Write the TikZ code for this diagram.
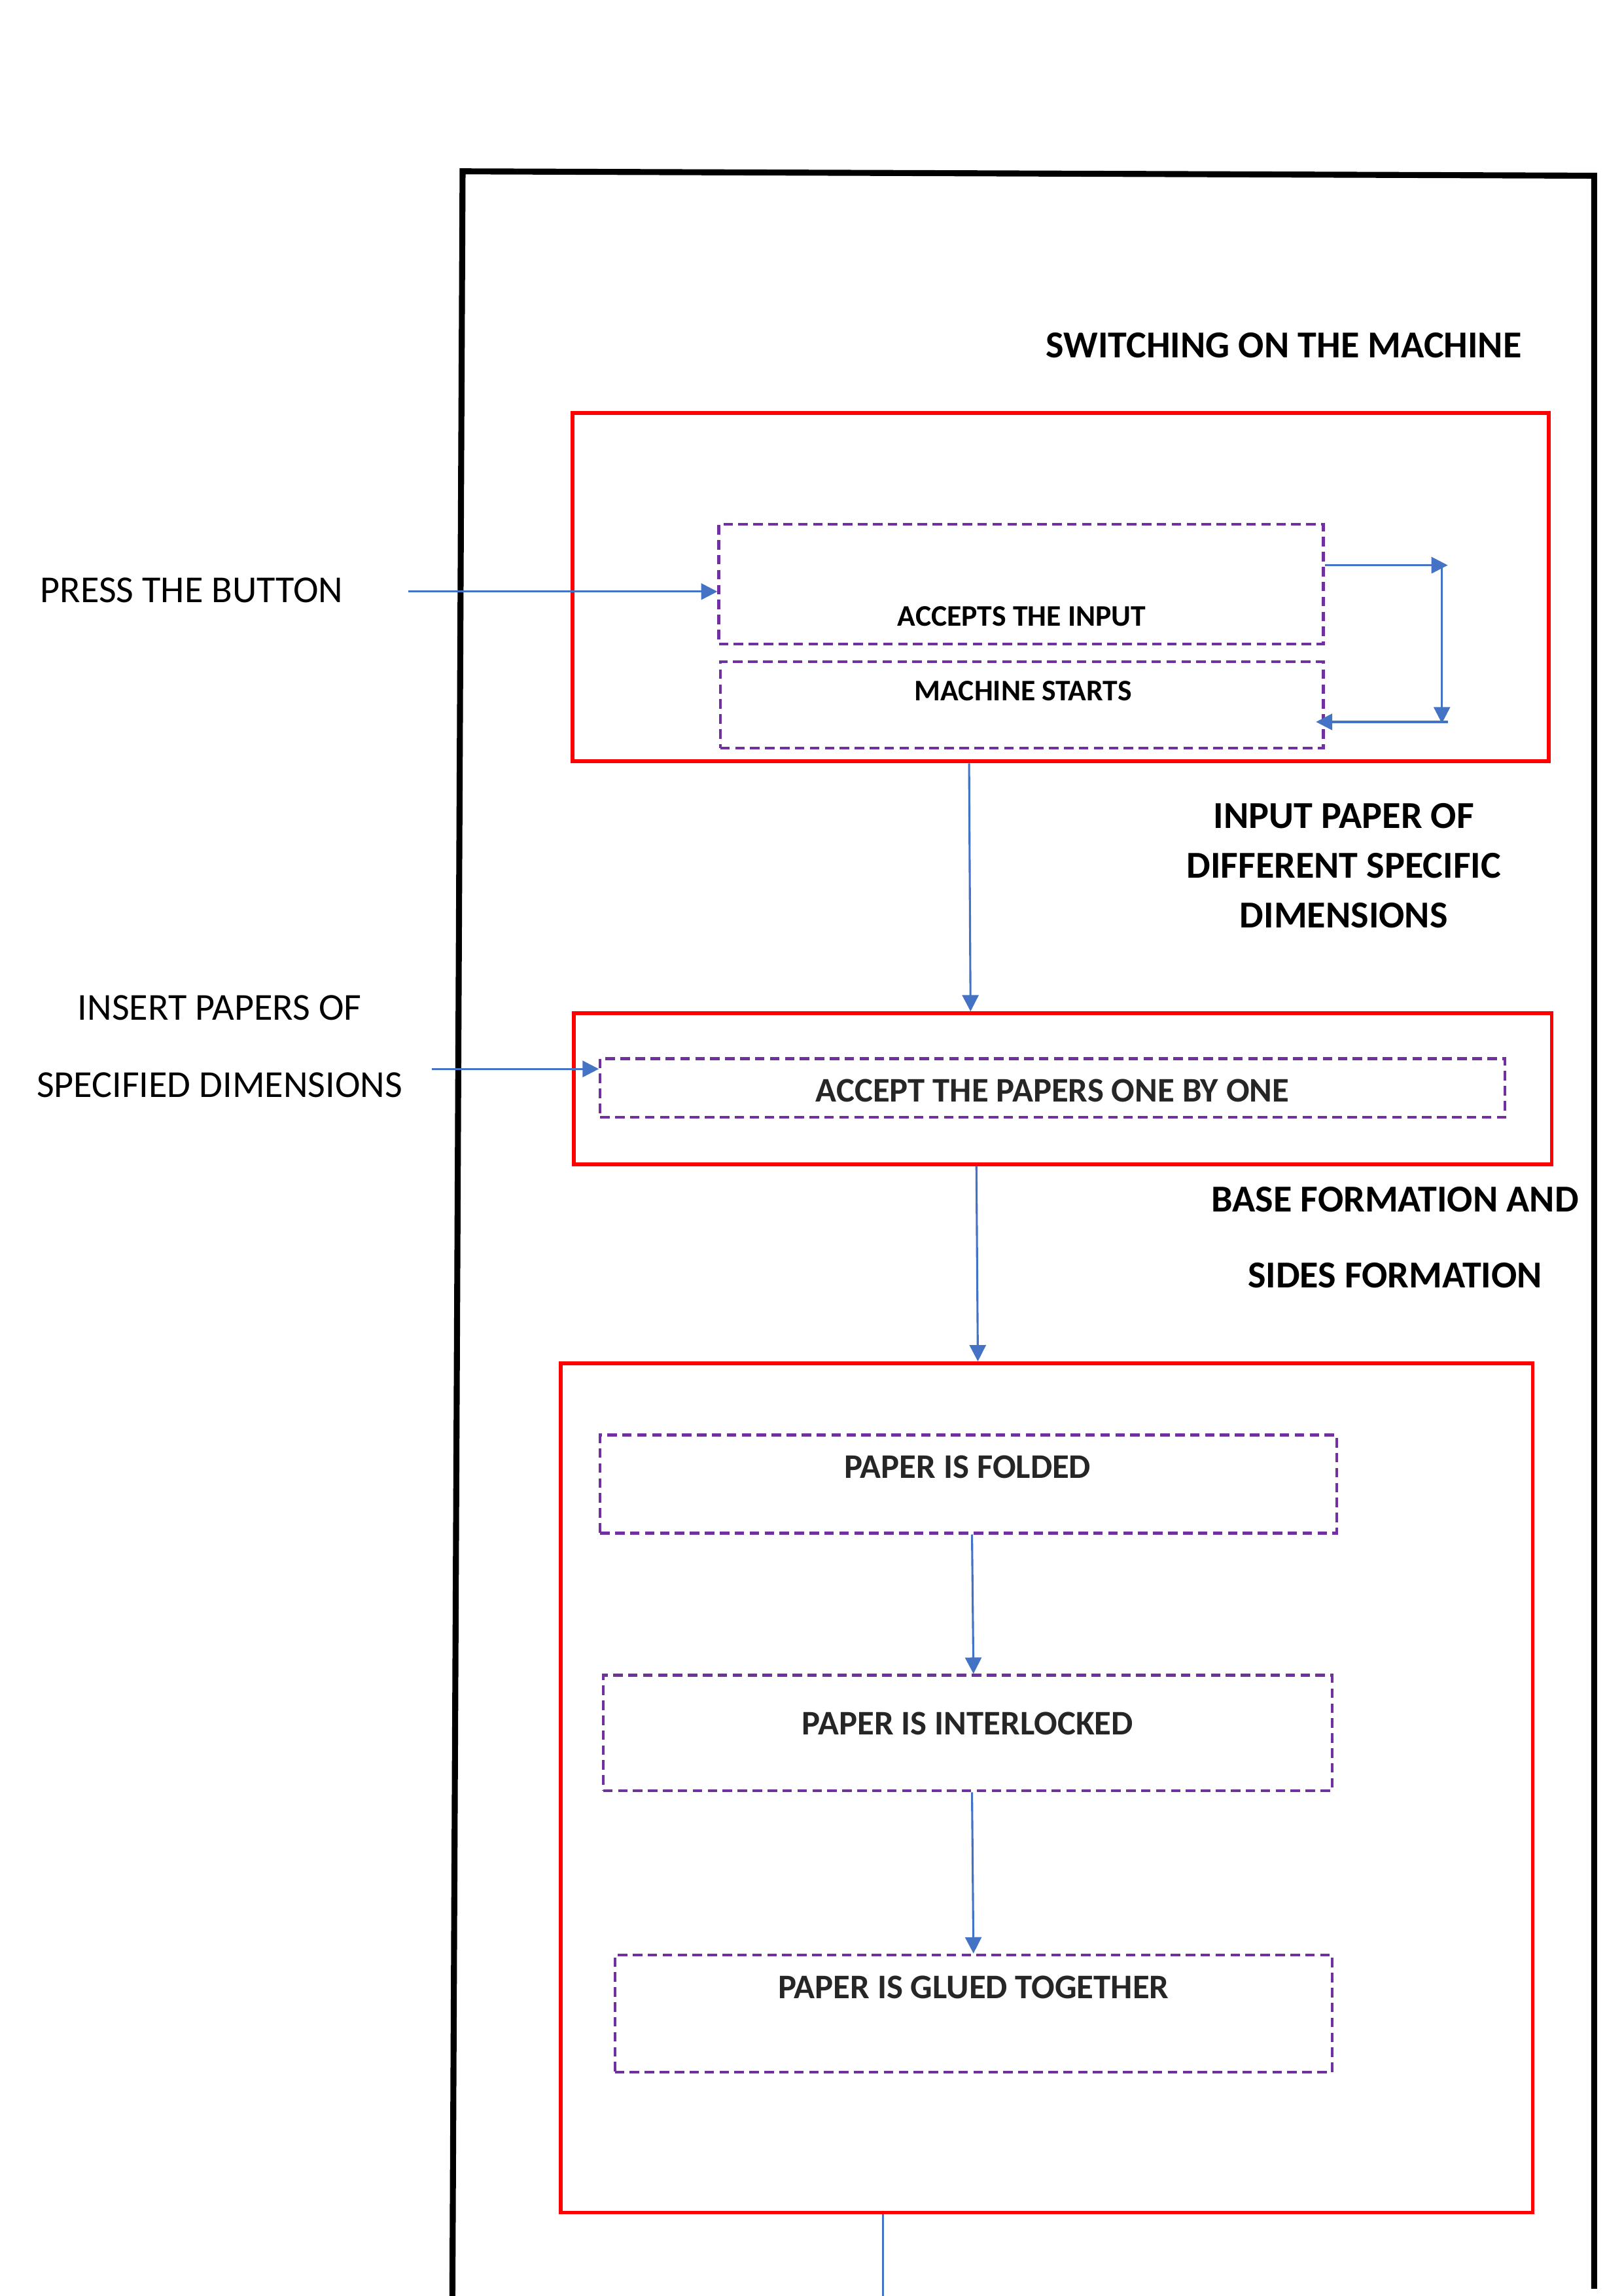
\documentclass[tikz,border=0pt]{standalone}
\usepackage{fontspec}
\setmainfont{Carlito}
\usepackage{tikz}
\usetikzlibrary{arrows.meta}
\newlength\px
\setlength\px{0.01894cm}
\definecolor{flowblue}{HTML}{4472C4}
\definecolor{boxpurple}{HTML}{7030A0}
\definecolor{boxred}{HTML}{FF0000}
\definecolor{labelgrey}{HTML}{262626}

\begin{document}
\begin{tikzpicture}[>={Triangle[length=6pt,width=6pt]}, x=0.01894cm, y=-0.01894cm,
	frame/.style={line width=2.2pt, black},
	redbox/.style={draw=boxred, line width=1.4pt, inner sep=0pt},
	dashbox/.style={draw=boxpurple, line width=1pt, dash pattern=on 3.5pt off 2pt, inner sep=0pt},
	flow/.style={->, draw=flowblue, fill=flowblue, line width=0.75pt},
	heading/.style={font=\fontsize{14}{18.3}\selectfont\bfseries, align=center, inner sep=0pt},
	side/.style={font=\fontsize{14}{28.5}\selectfont, align=center, inner sep=0pt},
	boxtext/.style={font=\fontsize{11}{13}\selectfont\bfseries, inner sep=0pt},
	steptext/.style={font=\fontsize{12.7}{15}\selectfont\bfseries, text=labelgrey, inner sep=0pt}]
	\useasboundingbox (0,0) rectangle (1109,1568);
%	\draw [help lines] (0,0) grid (1109,1568);
	\draw [frame] (309,1575) -- (316,117) -- (1089,120) -- (1089,1563);

	\node [heading] (title) at (877,236) {SWITCHING ON THE MACHINE};
	\node [redbox, minimum width=667\px, minimum height=238\px] (switch) at (724.5,401) {};
	\node [dashbox, minimum width=413\px, minimum height=82\px] (accin) at (697.5,399) {};
	\node [dashbox, minimum width=412\px, minimum height=59\px] (mstart) at (698,481.5) {};
	\node [boxtext] (accintext) at (698,421) {ACCEPTS THE INPUT};
	\node [boxtext] (mstarttext) at (699,472) {MACHINE STARTS};
	\node [side] (press) at (131,403) {PRESS THE BUTTON};
	\coordinate (pressend) at (279,404);
	\draw [flow] (pressend) -- (accin.west |- pressend);
	\coordinate (loopa) at (989,386);
	\coordinate (loopc) at (985,386);
	\coordinate (loopd) at (985,494);
	\coordinate (loopb) at (989,493);
	\coordinate (loopend) at (899,493);
	\draw [flow] (accin.east |- loopa) -- (loopa);
	\draw [flow] (loopc) -- (loopd);
	\draw [flow] (loopb) -- (loopend);

	\node [heading] (inputlabel) at (918,591) {INPUT PAPER OF\\DIFFERENT SPECIFIC\\DIMENSIONS};
	\node [redbox, minimum width=668\px, minimum height=103\px] (papers) at (726,743.5) {};
	\node [dashbox, minimum width=618\px, minimum height=40\px] (onebyone) at (719,743) {};
	\node [steptext] (onebyonetext) at (719,745) {ACCEPT THE PAPERS ONE BY ONE};
	\node [side] (insert) at (150,714.5) {INSERT PAPERS OF\\SPECIFIED DIMENSIONS};
	\coordinate (insertend) at (295,730);
	\draw [flow] (insertend) -- (onebyone.west |- insertend);
	\draw [flow] ([xshift=-62.5\px]switch.south) -- ([xshift=-63\px]papers.north);

	\node [heading, font=\fontsize{14}{28}\selectfont\bfseries] (baselabel) at (953,845) {BASE FORMATION AND\\SIDES FORMATION};
	\node [redbox, minimum width=664\px, minimum height=580\px] (forming) at (715,1221) {};
	\draw [flow] ([xshift=-59\px]papers.south) -- ([xshift=-47\px]forming.north);
	\node [dashbox, minimum width=503\px, minimum height=67\px] (folded) at (661.5,1013.5) {};
	\node [dashbox, minimum width=498\px, minimum height=79\px] (interlock) at (661,1183.5) {};
	\node [dashbox, minimum width=490\px, minimum height=80\px] (glued) at (665,1375) {};
	\node [steptext] (foldedtext) at (661,1002) {PAPER IS FOLDED};
	\node [steptext] (interlocktext) at (661,1177) {PAPER IS INTERLOCKED};
	\node [steptext] (gluedtext) at (665,1357) {PAPER IS GLUED TOGETHER};
	\draw [flow] ([xshift=2.5\px]folded.south) -- ([xshift=4\px]interlock.north);
	\draw [flow] ([xshift=3\px]interlock.south) -- (glued.north);
	\coordinate (exit) at (603,1570);
	\draw [flowblue, line width=0.75pt] ([xshift=-112\px]forming.south) -- (exit);
\end{tikzpicture}
\end{document}
